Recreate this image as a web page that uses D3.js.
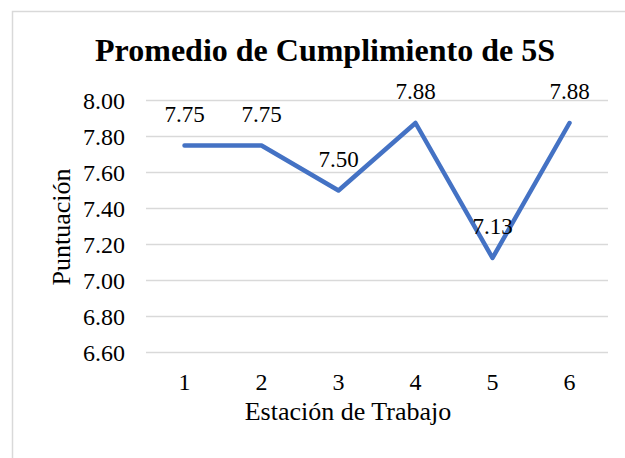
<!DOCTYPE html>
<html>
<head>
<meta charset="utf-8">
<script src="https://cdn.jsdelivr.net/npm/d3@7"></script>
<style>
  body { margin: 0; background: #fff; }
  svg { display: block; }
  svg text { font-family: "Liberation Serif", "Times New Roman", serif; }
</style>
</head>
<body>
<svg></svg>
<script>
const estaciones = ["1", "2", "3", "4", "5", "6"];
const puntuacion = [7.75, 7.75, 7.5, 7.875, 7.125, 7.875];
const yTicks = [6.6, 6.8, 7.0, 7.2, 7.4, 7.6, 7.8, 8.0];

const data = estaciones.map((e, i) => ({ estacion: e, valor: puntuacion[i] }));

const width = 625, height = 458;
const plot = { left: 146, right: 608, top: 100.5, bottom: 352.5 };

const svg = d3.select("svg")
  .attr("width", width)
  .attr("height", height);

// chart area border (cropped on right / bottom)
svg.append("rect")
  .attr("x", 12.5)
  .attr("y", 11.5)
  .attr("width", 700)
  .attr("height", 500)
  .attr("fill", "#fff")
  .attr("stroke", "#d9d9d9")
  .attr("stroke-width", 1.5);

const xScale = d3.scaleBand()
  .domain(estaciones)
  .range([plot.left, plot.right]);

const yScale = d3.scaleLinear()
  .domain([6.6, 8.0])
  .range([plot.bottom, plot.top]);

// gridlines
svg.append("g")
  .selectAll("line")
  .data(yTicks)
  .enter().append("line")
  .attr("x1", plot.left)
  .attr("x2", plot.right)
  .attr("y1", d => yScale(d))
  .attr("y2", d => yScale(d))
  .attr("stroke", "#d9d9d9")
  .attr("stroke-width", 1.5);

// y axis labels
const yAxis = d3.axisLeft(yScale)
  .tickValues(yTicks)
  .tickFormat(d3.format(".2f"))
  .tickSize(0)
  .tickPadding(21);

const yg = svg.append("g")
  .attr("transform", `translate(${plot.left},0)`)
  .attr("font-family", null)
  .call(yAxis);
yg.select(".domain").remove();
yg.selectAll("text")
  .style("font-size", "24px")
  .attr("fill", "#000");

// x axis labels
const xAxis = d3.axisBottom(xScale).tickSize(0).tickPadding(20);
const xg = svg.append("g")
  .attr("transform", `translate(0,${plot.bottom})`)
  .call(xAxis);
xg.select(".domain").remove();
xg.selectAll("text")
  .style("font-size", "24px")
  .attr("fill", "#000");

// line
const line = d3.line()
  .x(d => xScale(d.estacion) + xScale.bandwidth() / 2)
  .y(d => yScale(d.valor));

svg.append("path")
  .datum(data)
  .attr("d", line)
  .attr("fill", "none")
  .attr("stroke", "#4472c4")
  .attr("stroke-width", 4.5)
  .attr("stroke-linejoin", "round")
  .attr("stroke-linecap", "round");

// data labels
svg.append("g")
  .selectAll("text")
  .data(data)
  .enter().append("text")
  .attr("x", d => xScale(d.estacion) + xScale.bandwidth() / 2)
  .attr("y", d => yScale(d.valor) - 24)
  .attr("text-anchor", "middle")
  .style("font-size", "23px")
  .attr("fill", "#000")
  .text(d => d.valor.toFixed(2));

// title
svg.append("text")
  .attr("x", 325)
  .attr("y", 61)
  .attr("text-anchor", "middle")
  .style("font-weight", "bold")
  .style("font-size", "32px")
  .text("Promedio de Cumplimiento de 5S");

// axis titles
svg.append("text")
  .attr("x", 348)
  .attr("y", 420)
  .attr("text-anchor", "middle")
  .style("font-size", "26px")
  .text("Estación de Trabajo");

svg.append("text")
  .attr("transform", "translate(70,227) rotate(-90)")
  .attr("text-anchor", "middle")
  .style("font-size", "26px")
  .text("Puntuación");
</script>
</body>
</html>
